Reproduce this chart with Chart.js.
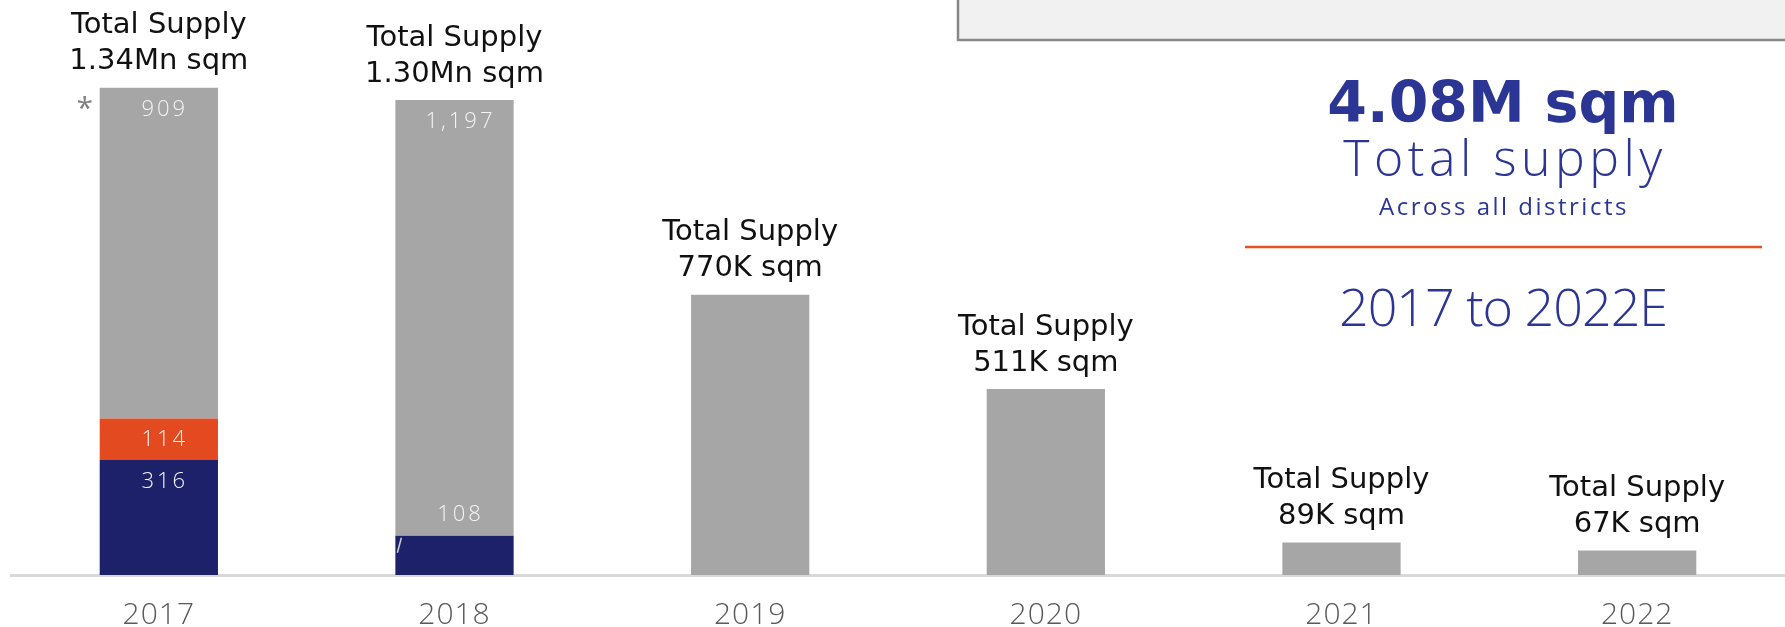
<!DOCTYPE html>
<html lang="en">
<head>
<meta charset="utf-8">
<title>Total Supply 2017 to 2022E</title>
<script src="https://cdn.jsdelivr.net/npm/chart.js@4.4.1/dist/chart.umd.min.js"></script>
<style>
  html, body { margin: 0; padding: 0; background: #fff; }
  #holder { width: 1785px; height: 627px; }
</style>
</head>
<body>
<div id="holder"><canvas id="chart" width="1785" height="627"></canvas></div>
<script>
// supply per year, thousand sqm
const years = ['2017', '2018', '2019', '2020', '2021', '2022'];
const navySupply = [316, 108, 0, 0, 0, 0];
const orangeSupply = [114, 0, 0, 0, 0, 0];
const greySupply = [909, 1197, 770, 511, 89, 67];
const totalLabels = ['1.34Mn sqm', '1.30Mn sqm', '770K sqm', '511K sqm', '89K sqm', '67K sqm'];
// years whose bars show the split values inside
const splitYears = ['2017', '2018'];

const COLORS = {
  navy: '#1c216a',
  orange: '#e34a20',
  grey: '#a6a6a6',
  panelBlue: '#2b3593',
  rule: '#e8501f',
};

const FONT = '"Open Sans", "Noto Sans", sans-serif';
const WIDE = '"DejaVu Sans", "Open Sans", sans-serif';

// wider tracking for the year ticks, reset before the bars are drawn
const tickSpacing = {
  id: 'tickSpacing',
  beforeDraw(chart) { chart.ctx.letterSpacing = '1px'; },
  beforeDatasetsDraw(chart) { chart.ctx.letterSpacing = '0px'; },
};

// labels above each stack and inside the split bars
const barLabels = {
  id: 'barLabels',
  afterDatasetsDraw(chart) {
    const ctx = chart.ctx;
    const metas = chart.data.datasets.map((d, i) => chart.getDatasetMeta(i));
    const topMeta = metas[metas.length - 1];
    ctx.save();
    ctx.textAlign = 'center';
    ctx.textBaseline = 'middle';

    years.forEach((yr, i) => {
      const bar = topMeta.data[i];
      const x = bar.x;
      const top = bar.y;

      ctx.fillStyle = '#111';
      ctx.font = '400 29px ' + WIDE;
      ctx.letterSpacing = '0px';
      ctx.fillText('Total Supply', x, top - 62);
      ctx.fillText(totalLabels[i], x, top - 26);

      if (!splitYears.includes(yr)) return;

      ctx.font = '300 22px ' + FONT;
      ctx.letterSpacing = '3px';
      ctx.fillStyle = '#f4f4f4';
      metas.forEach((meta, d) => {
        const v = chart.data.datasets[d].data[i];
        if (!v) return;
        const el = meta.data[i];
        const h = el.base - el.y;
        let y;
        if (h >= 45) y = el.y + 22;
        else if (d === 0) y = el.y - 21;  // thin bottom slice: value sits just above it
        else y = el.y + h / 2;
        ctx.fillText(v.toLocaleString('en-US'), x + 6, y);
        if (h < 45 && d === 0) {
          // small leader tick on the slice edge
          const left = x - el.width / 2;
          ctx.strokeStyle = '#d0d0d0';
          ctx.lineWidth = 1.5;
          ctx.beginPath();
          ctx.moveTo(left + 6, el.y + 2);
          ctx.lineTo(left + 2, el.y + 17);
          ctx.stroke();
        }
      });

      if (i === 0) {
        ctx.letterSpacing = '0px';
        ctx.fillStyle = '#7f7f7f';
        ctx.font = '400 30px ' + FONT;
        ctx.fillText('*', x - 74, top + 22);
      }
    });
    ctx.restore();
  }
};

// headline panel on the right
const summaryPanel = {
  id: 'summaryPanel',
  afterDraw(chart) {
    const ctx = chart.ctx;
    ctx.save();
    ctx.fillStyle = '#f1f1f1';
    ctx.fillRect(957, 0, 830, 41);
    ctx.strokeStyle = '#888';
    ctx.lineWidth = 2.5;
    ctx.beginPath();
    ctx.moveTo(958, 0);
    ctx.lineTo(958, 40);
    ctx.lineTo(1785, 40);
    ctx.stroke();

    const cx = 1503;
    ctx.textAlign = 'center';
    ctx.textBaseline = 'middle';
    ctx.fillStyle = COLORS.panelBlue;
    ctx.font = '700 57px ' + WIDE;
    ctx.letterSpacing = '0px';
    ctx.fillText('4.08M sqm', cx, 107);
    ctx.font = '300 50px ' + FONT;
    ctx.letterSpacing = '4.5px';
    ctx.fillText('Total supply', cx + 2, 162);
    ctx.font = '400 24px ' + FONT;
    ctx.letterSpacing = '2.5px';
    ctx.fillText('Across all districts', cx + 1, 208);

    ctx.strokeStyle = COLORS.rule;
    ctx.lineWidth = 2.5;
    ctx.beginPath();
    ctx.moveTo(1245, 247);
    ctx.lineTo(1762, 247);
    ctx.stroke();

    ctx.fillStyle = COLORS.panelBlue;
    ctx.font = '300 52px ' + FONT;
    ctx.letterSpacing = '-1px';
    ctx.fillText('2017 to 2022E', cx, 311);
    ctx.restore();
  }
};

new Chart(document.getElementById('chart'), {
  type: 'bar',
  data: {
    labels: years,
    datasets: [
      { label: 'Navy', data: navySupply, backgroundColor: COLORS.navy },
      { label: 'Orange', data: orangeSupply, backgroundColor: COLORS.orange },
      { label: 'Grey', data: greySupply, backgroundColor: COLORS.grey },
    ]
  },
  options: {
    responsive: false,
    animation: false,
    layout: { padding: { left: 11, right: -2, top: 0, bottom: 0 } },
    datasets: {
      bar: { barPercentage: 0.4, categoryPercentage: 1.0, borderWidth: 0 }
    },
    plugins: {
      legend: { display: false },
      tooltip: { enabled: false },
    },
    scales: {
      x: {
        stacked: true,
        grid: { display: false, drawTicks: false },
        border: { display: true, color: '#d9d9d9', width: 3 },
        ticks: {
          color: '#595959',
          padding: 27,
          font: { family: FONT, size: 30, weight: 300, lineHeight: 0.9 },
        },
        afterFit(scale) { scale.height = 52; },
      },
      y: {
        stacked: true,
        display: false,
        min: 0,
        max: 1580,
      }
    }
  },
  plugins: [tickSpacing, barLabels, summaryPanel]
});
</script>
</body>
</html>
